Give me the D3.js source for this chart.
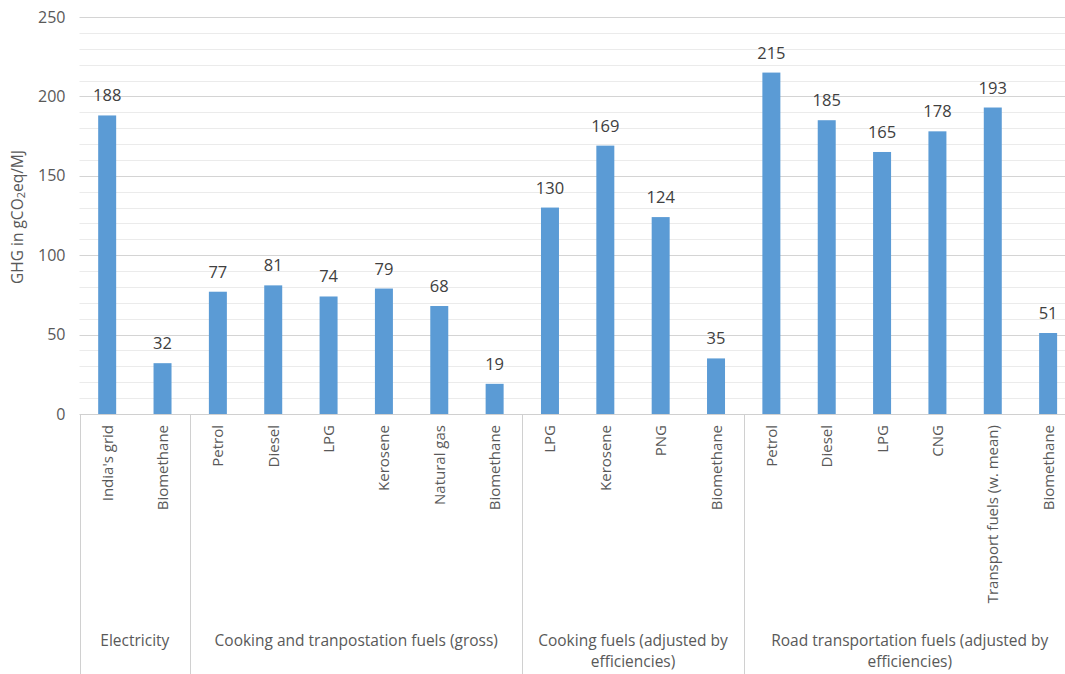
<!DOCTYPE html>
<html>
<head>
<meta charset="utf-8">
<script src="https://cdn.jsdelivr.net/npm/d3@7"></script>
<style>
body { margin: 0; background: #fff; }
text { font-family: "Open Sans", sans-serif; fill: #595959; }
</style>
</head>
<body>
<div class="chart"></div>
<script>
const fuels = ["India's grid", "Biomethane", "Petrol", "Diesel", "LPG", "Kerosene", "Natural gas", "Biomethane",
    "LPG", "Kerosene", "PNG", "Biomethane",
    "Petrol", "Diesel", "LPG", "CNG", "Transport fuels (w. mean)", "Biomethane"];
const ghg = [188, 32, 77, 81, 74, 79, 68, 19, 130, 169, 124, 35, 215, 185, 165, 178, 193, 51];
const groupNames = [["Electricity"], ["Cooking and tranpostation fuels (gross)"],
    ["Cooking fuels (adjusted by", "efficiencies)"], ["Road transportation fuels (adjusted by", "efficiencies)"]];
const groupSizes = [2, 6, 4, 6];
const yTicks = [0, 50, 100, 150, 200, 250];

const width = 1065, height = 674;
const x0 = 79.5, x1 = 1075.8, yBottom = 414, yTop = 17;

const svg = d3.select(".chart").append("svg")
    .attr("width", width)
    .attr("height", height);

let xScale = d3.scaleBand()
    .domain(d3.range(fuels.length))
    .range([x0, x1])
    .paddingInner(0.675)
    .paddingOuter(0.3375);

let yScale = d3.scaleLinear()
    .domain([0, 250])
    .range([yBottom, yTop]);

// minor gridlines every 10, major every 50
svg.append("g").selectAll("line")
    .data(d3.range(10, 251, 10).filter(d => d % 50 != 0))
    .enter().append("line")
    .attr("x1", x0).attr("x2", x1)
    .attr("y1", d => Math.round(yScale(d)) + 0.5)
    .attr("y2", d => Math.round(yScale(d)) + 0.5)
    .attr("stroke", "#ebebeb");

svg.append("g").selectAll("line")
    .data(yTicks.slice(1))
    .enter().append("line")
    .attr("x1", x0).attr("x2", x1)
    .attr("y1", d => Math.round(yScale(d)) + 0.5)
    .attr("y2", d => Math.round(yScale(d)) + 0.5)
    .attr("stroke", "#d4d4d4");

let yAxis = d3.axisLeft(yScale).tickValues(yTicks).tickSize(0).tickPadding(14);
svg.append("g")
    .attr("class", "axis y-axis")
    .attr("transform", `translate(${x0},0)`)
    .call(yAxis)
    .call(g => g.select(".domain").remove())
    .call(g => g.selectAll("text").style("font-size", "16px").style("font-family", "'Open Sans', sans-serif").attr("fill", "#595959"));

// y title with subscript
const yt = svg.append("text")
    .attr("transform", "translate(23,217) rotate(-90)")
    .attr("text-anchor", "middle")
    .style("font-size", "15.5px");
yt.append("tspan").text("GHG in gCO");
yt.append("tspan").text("2").style("font-size", "11px").attr("dy", 2);
yt.append("tspan").text("eq/MJ").attr("dy", -2);

// bars
svg.append("g").selectAll("rect")
    .data(ghg)
    .enter().append("rect")
    .attr("x", (d, i) => xScale(i))
    .attr("width", xScale.bandwidth())
    .attr("y", d => yScale(d))
    .attr("height", d => yBottom - yScale(d))
    .attr("fill", "#5B9BD5");

// value labels
svg.append("g").selectAll("text")
    .data(ghg)
    .enter().append("text")
    .attr("x", (d, i) => xScale(i) + xScale.bandwidth() / 2)
    .attr("y", d => yScale(d) - 14)
    .attr("text-anchor", "middle")
    .style("font-size", "16.5px")
    .style("fill", "#404040")
    .text(d => d);

// axis line
svg.append("line")
    .attr("x1", x0).attr("x2", x1)
    .attr("y1", yBottom + 0.5).attr("y2", yBottom + 0.5)
    .attr("stroke", "#d0d0d0");

// category labels
svg.append("g").selectAll("text")
    .data(fuels)
    .enter().append("text")
    .attr("transform", (d, i) => `translate(${xScale(i) + xScale.bandwidth() / 2 + 5.5},${yBottom + 11}) rotate(-90)`)
    .attr("text-anchor", "end")
    .style("font-size", "15px")
    .text(d => d);

// group separators and labels
const step = xScale.step();
let bounds = [0];
groupSizes.forEach(s => bounds.push(bounds[bounds.length - 1] + s));
svg.append("g").selectAll("line")
    .data(bounds)
    .enter().append("line")
    .attr("x1", d => Math.round(x0 + d * step) + 0.5)
    .attr("x2", d => Math.round(x0 + d * step) + 0.5)
    .attr("y1", yBottom).attr("y2", height)
    .attr("stroke", "#d0d0d0");

groupNames.forEach((lines, gi) => {
    const cx = x0 + (bounds[gi] + groupSizes[gi] / 2) * step;
    const t = svg.append("text")
        .attr("text-anchor", "middle")
        .style("font-size", "15.5px");
    lines.forEach((l, li) => {
        t.append("tspan").attr("x", cx).attr("y", 646 + li * 21).text(l);
    });
});
</script>
</body>
</html>
